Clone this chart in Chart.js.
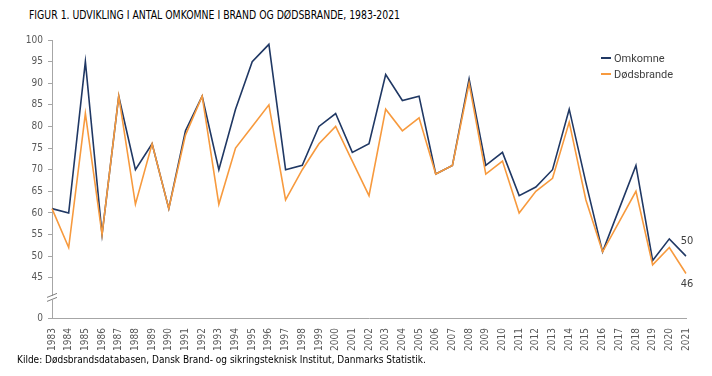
<!DOCTYPE html>
<html>
<head>
<meta charset="utf-8">
<script src="https://cdn.jsdelivr.net/npm/chart.js@4"></script>
<style>
  html, body { margin: 0; padding: 0; background: #fff; }
  #wrap { position: relative; width: 712px; height: 376px; overflow: hidden; }
  #title { position: absolute; left: 29px; top: 7px; font: 12.5px "DejaVu Sans Condensed", sans-serif; color: #000; white-space: nowrap; transform: scaleX(0.83); transform-origin: 0 0; }
  #source { position: absolute; left: 17px; top: 354px; font: 10px "DejaVu Sans Condensed", sans-serif; color: #000; white-space: nowrap; }
  #legend { position: absolute; left: 601px; top: 51px; font: 11px Roboto, sans-serif; color: #404040; }
  #legend div { height: 16px; line-height: 16px; white-space: nowrap; }
  #legend span.ln { display: inline-block; width: 10px; height: 2px; vertical-align: middle; margin-right: 3px; position: relative; top: -1px; }
  canvas { position: absolute; left: 0; top: 0; }
</style>
</head>
<body>
<div id="wrap">
  <div id="title">FIGUR 1. UDVIKLING I ANTAL OMKOMNE I BRAND OG DØDSBRANDE, 1983-2021</div>
  <canvas id="chart" width="712" height="376"></canvas>
  <div id="legend">
    <div><span class="ln" style="background:#203864"></span>Omkomne</div>
    <div><span class="ln" style="background:#F79A3E"></span>Dødsbrande</div>
  </div>
  <div id="source">Kilde: Dødsbrandsdatabasen, Dansk Brand- og sikringsteknisk Institut, Danmarks Statistik.</div>
</div>
<script>
var years = ['1983','1984','1985','1986','1987','1988','1989','1990','1991','1992',
  '1993','1994','1995','1996','1997','1998','1999','2000','2001','2002',
  '2003','2004','2005','2006','2007','2008','2009','2010','2011','2012',
  '2013','2014','2015','2016','2017','2018','2019','2020','2021'];

var omkomne = [61,60,95,55,87,70,76,61,79,87,70,84,95,99,70,71,80,83,74,76,
  92,86,87,69,71,91,71,74,64,66,70,84,67,51,61,71,49,54,50];

var doedsbrande = [61,52,83,55,87,62,76,61,78,87,62,75,80,85,63,70,76,80,72,64,
  84,79,82,69,71,90,69,72,60,65,68,81,63,51,58,65,48,52,46];

// y axis is broken: 0, then 45..100
var yTicks = [45,50,55,60,65,70,75,80,85,90,95,100];
var yBottomLabel = '0';
var yBreakMin = 35.7; // where "0" sits on the squeezed scale

var axisColor = '#a6a6a6';
var tickFont = { family: 'DejaVu Sans Condensed', size: 10 };

// draws the // break marks and the end labels
var extras = {
  id: 'extras',
  afterDraw: function(chart) {
    var ctx = chart.ctx;
    var y = chart.scales.y;
    var x0 = chart.chartArea.left;
    var yb = (y.getPixelForValue(45) + y.getPixelForValue(yBreakMin)) / 2;
    ctx.save();
    ctx.fillStyle = '#fff';
    ctx.fillRect(x0 - 2, yb - 2, 4, 4);
    ctx.strokeStyle = '#7f7f7f';
    ctx.lineWidth = 1;
    ctx.beginPath();
    ctx.moveTo(x0 - 5, yb - 0.5); ctx.lineTo(x0 + 5, yb - 4.5);
    ctx.moveTo(x0 - 5, yb + 3.5); ctx.lineTo(x0 + 5, yb - 0.5);
    ctx.stroke();

    ctx.fillStyle = '#404040';
    ctx.font = '11px "DejaVu Sans Condensed"';
    ctx.textAlign = 'center';
    ctx.textBaseline = 'middle';
    var last = years.length - 1;
    var p1 = chart.getDatasetMeta(0).data[last];
    var p2 = chart.getDatasetMeta(1).data[last];
    ctx.fillText(String(omkomne[last]), p1.x + 1, p1.y - 15);
    ctx.fillText(String(doedsbrande[last]), p2.x + 1, p2.y + 11);
    ctx.restore();
  }
};

var ctx = document.getElementById('chart').getContext('2d');
var myChart = new Chart(ctx, {
  type: 'line',
  data: {
    labels: years,
    datasets: [
      {
        label: 'Omkomne',
        data: omkomne,
        borderColor: '#203864',
        borderWidth: 1.6,
        pointRadius: 0,
        tension: 0,
        order: 1
      },
      {
        label: 'Dødsbrande',
        data: doedsbrande,
        borderColor: '#F79A3E',
        borderWidth: 1.6,
        pointRadius: 0,
        tension: 0,
        order: 0
      }
    ]
  },
  options: {
    responsive: false,
    animation: false,
    layout: { padding: { left: 12, right: 26, top: 40, bottom: 0 } },
    plugins: {
      legend: { display: false },
      tooltip: { enabled: false }
    },
    scales: {
      x: {
        offset: false,
        grid: { display: false },
        border: { display: true, color: axisColor },
        ticks: {
          color: '#595959',
          font: tickFont,
          minRotation: 90,
          maxRotation: 90,
          autoSkip: false,
          padding: 2
        },
        afterFit: function(scale) { scale.height = 58; }
      },
      y: {
        min: yBreakMin,
        max: 100,
        grid: { drawOnChartArea: false, drawTicks: true, tickLength: 4, color: axisColor },
        border: { display: true, color: axisColor },
        ticks: {
          color: '#595959',
          font: tickFont,
          padding: 5,
          callback: function(v) { return v < yTicks[0] ? yBottomLabel : String(v); }
        },
        afterBuildTicks: function(scale) {
          scale.ticks = [yBreakMin].concat(yTicks).map(function(v) { return { value: v }; });
        },
        afterFit: function(scale) { scale.width = 40; }
      }
    }
  },
  plugins: [extras]
});
</script>
</body>
</html>
